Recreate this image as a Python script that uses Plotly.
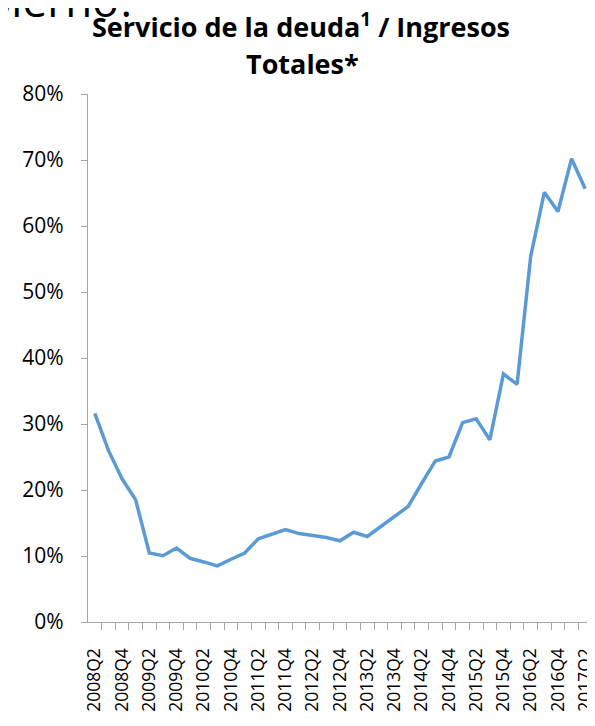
import plotly.graph_objects as go

quarters = [
    "2008Q2", "2008Q3", "2008Q4",
    "2009Q1", "2009Q2", "2009Q3", "2009Q4",
    "2010Q1", "2010Q2", "2010Q3", "2010Q4",
    "2011Q1", "2011Q2", "2011Q3", "2011Q4",
    "2012Q1", "2012Q2", "2012Q3", "2012Q4",
    "2013Q1", "2013Q2", "2013Q3", "2013Q4",
    "2014Q1", "2014Q2", "2014Q3", "2014Q4",
    "2015Q1", "2015Q2", "2015Q3", "2015Q4",
    "2016Q1", "2016Q2", "2016Q3", "2016Q4",
    "2017Q1", "2017Q2",
]
ratio_pct = [
    31.6, 26.0, 21.7,
    18.5, 10.45, 10.05, 11.2,
    9.65, 9.1, 8.5, 9.5,
    10.45, 12.6, 13.3, 14.0,
    13.4, 13.1, 12.8, 12.3,
    13.6, 12.95, 14.5, 16.0,
    17.5, 21.0, 24.4, 25.0,
    30.2, 30.8, 27.6, 37.6,
    36.0, 55.4, 65.1, 62.2,
    70.2, 65.65,
]
y_ticks = [0, 0.1, 0.2, 0.3, 0.4, 0.5, 0.6, 0.7, 0.8]

# page body has an 8px margin, so the figure is drawn 8px smaller
W, H = 587, 718
L, R, T, B = 80, 3, 86, 104
plot_h = H - T - B
plot_w = W - L - R

def ypx(p):
    return 1 + (T - p) / plot_h

def xpx(p):
    return (p - L) / plot_w

idx = list(range(len(quarters)))
vals = [v / 100 for v in ratio_pct]

fig = go.Figure(go.Scatter(
    x=idx, y=vals, mode="lines",
    line=dict(color="#5B9BD5", width=3.5),
    hoverinfo="skip",
))

axis_col = "#A6A6A6"
font_fam = "Open Sans, Lato, sans-serif"

fig.update_layout(
    width=W, height=H,
    margin=dict(l=L, r=R, t=T, b=B, pad=0, autoexpand=False),
    paper_bgcolor="white", plot_bgcolor="white",
    showlegend=False,
    font=dict(family=font_fam, color="#000000"),
)
fig.update_xaxes(
    range=[-0.5, len(quarters) - 0.5],
    tickvals=idx[::2], ticktext=quarters[::2],
    tickangle=-90, ticks="", showgrid=False, zeroline=False,
    showline=True, linecolor=axis_col, linewidth=1.3,
    tickfont=dict(size=17.5, family=font_fam, color="#000"),
    ticklabelstandoff=18, ticklabeloverflow="allow",
    minor=dict(tickvals=[i + 0.5 for i in idx], ticks="outside",
               ticklen=7, tickcolor=axis_col, tickwidth=1.3, showgrid=False),
)
fig.update_yaxes(
    range=[0, 0.8], tickvals=y_ticks, tickformat=".0%",
    ticks="outside", ticklen=6, tickcolor=axis_col, tickwidth=1.3,
    showgrid=False, zeroline=False,
    showline=True, linecolor=axis_col, linewidth=1.3,
    tickfont=dict(size=21, family=font_fam, color="#000"),
    ticklabelstandoff=13,
)

# cut-off slide title at top-left
fig.add_annotation(
    text="¿Gobierno?", xref="paper", yref="paper",
    x=xpx(132), y=ypx(24), xanchor="right", yanchor="bottom",
    showarrow=False, font=dict(size=44, family=font_fam, color="#000"),
)
fig.add_annotation(
    text="<b>Servicio de la deuda<sup>1</sup> / Ingresos</b>",
    xref="paper", yref="paper", x=xpx(293), y=ypx(17),
    xanchor="center", yanchor="middle", showarrow=False,
    font=dict(size=27, family=font_fam, color="#000"),
)
fig.add_annotation(
    text="<b>Totales*</b>",
    xref="paper", yref="paper", x=xpx(294), y=ypx(55),
    xanchor="center", yanchor="middle", showarrow=False,
    font=dict(size=27, family=font_fam, color="#000"),
)

fig.write_html("out.html")
